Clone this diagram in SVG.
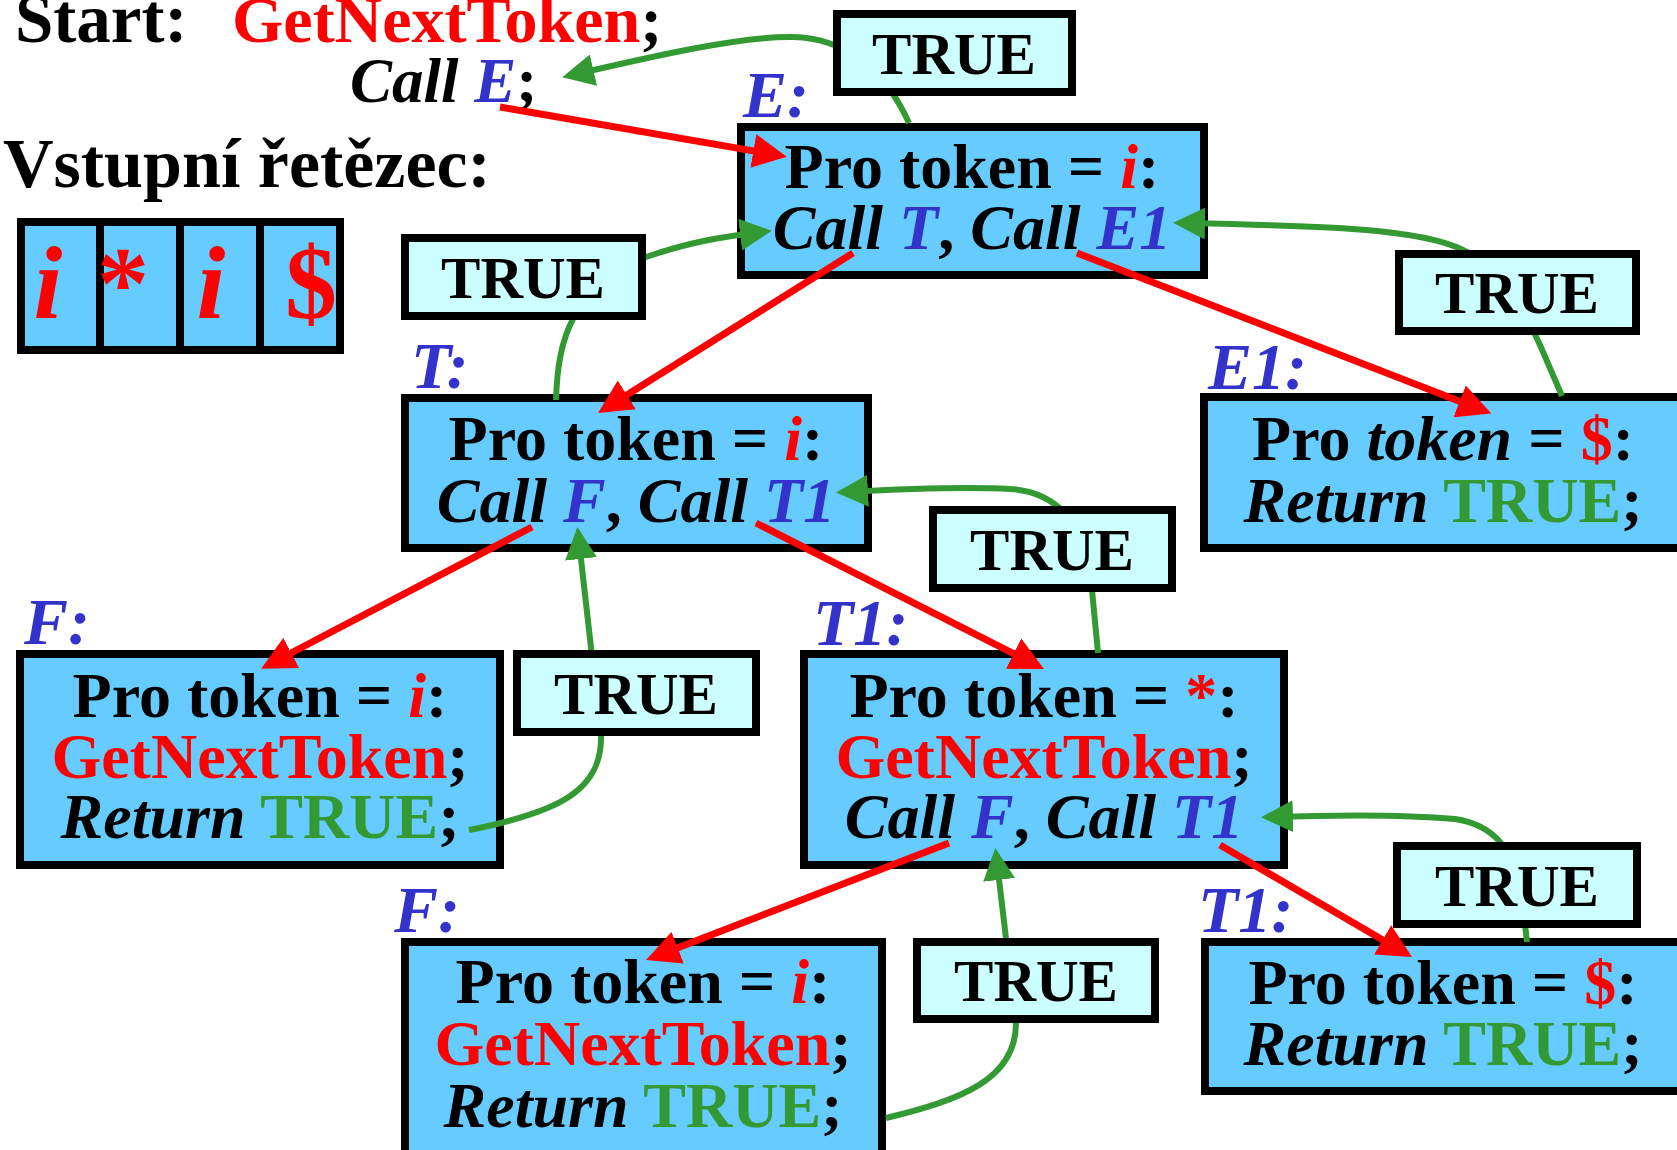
<svg xmlns="http://www.w3.org/2000/svg" width="1677" height="1150" viewBox="0 0 1677 1150">
<style>
text{font-family:"Liberation Serif","Times New Roman",serif;font-weight:bold;fill:#000}
.it{font-style:italic}
.red{fill:#ff0000}
.blue{fill:#3333cc}
.green{fill:#339933}
.box{fill:#66ccff;stroke:#000;stroke-width:8}
.tbox{fill:#ccffff;stroke:#000;stroke-width:8}
.bt{font-size:64px;text-anchor:middle}
.tt{font-size:59px;text-anchor:middle}
.lbl{font-size:66px;font-style:italic;fill:#3333cc}
.ch{font-size:104px;fill:#ff0000;text-anchor:middle}
.rl{fill:none;stroke:#ff0000;stroke-width:7}
.gl{fill:none;stroke:#339933;stroke-width:6}
</style>
<defs>
<marker id="ar" markerUnits="userSpaceOnUse" viewBox="0 0 34 34" markerWidth="34" markerHeight="34" refX="24" refY="17" orient="auto"><path d="M0,0 L34,17 L0,34 z" fill="#ff0000"/></marker>
<marker id="ag" markerUnits="userSpaceOnUse" viewBox="0 0 32 32" markerWidth="32" markerHeight="32" refX="22" refY="16" orient="auto"><path d="M0,0 L32,16 L0,32 z" fill="#339933"/></marker>
</defs>

<g id="header">
<text x="15" y="42" style="font-size:69px">Start:</text>
<text x="232" y="42" style="font-size:66px"><tspan class="red">GetNextToken</tspan>;</text>
<text x="350" y="102" style="font-size:63px"><tspan class="it">Call </tspan><tspan class="it blue">E</tspan>;</text>
<text x="3" y="187" style="font-size:70px">Vstupní řetězec:</text>
</g>

<g id="input">
<rect class="box" x="21" y="222" width="319" height="128"/>
<line x1="100" y1="222" x2="100" y2="350" stroke="#000" stroke-width="8"/>
<line x1="180" y1="222" x2="180" y2="350" stroke="#000" stroke-width="8"/>
<line x1="260" y1="222" x2="260" y2="350" stroke="#000" stroke-width="8"/>
<text class="ch it" x="48" y="318">i</text>
<text class="ch" x="123" y="318">*</text>
<text class="ch it" x="211" y="318">i</text>
<text class="ch" x="311" y="318">$</text>
</g>

<g id="node-E">
<text class="lbl" x="743" y="117">E:</text>
<rect class="box" x="741" y="127" width="463" height="148"/>
<text class="bt" x="972" y="188">Pro token = <tspan class="it red">i</tspan>:</text>
<text class="bt" x="972" y="249"><tspan class="it">Call </tspan><tspan class="it blue">T</tspan>, <tspan class="it">Call </tspan><tspan class="it blue">E1</tspan></text>
</g>

<g id="node-T">
<text class="lbl" x="411" y="388">T:</text>
<rect class="box" x="405" y="398" width="463" height="150"/>
<text class="bt" x="636" y="460">Pro token = <tspan class="it red">i</tspan>:</text>
<text class="bt" x="636" y="522"><tspan class="it">Call </tspan><tspan class="it blue">F</tspan>, <tspan class="it">Call </tspan><tspan class="it blue">T1</tspan></text>
</g>

<g id="node-E1">
<text class="lbl" x="1208" y="389">E1:</text>
<rect class="box" x="1204" y="397" width="490" height="151"/>
<text class="bt" x="1443" y="460">Pro <tspan class="it">token</tspan> = <tspan class="red">$</tspan>:</text>
<text class="bt" x="1443" y="522"><tspan class="it">Return</tspan> <tspan class="green">TRUE</tspan>;</text>
</g>

<g id="node-F">
<text class="lbl" x="24" y="644">F:</text>
<rect class="box" x="20" y="654" width="480" height="211"/>
<text class="bt" x="260" y="717">Pro token = <tspan class="it red">i</tspan>:</text>
<text class="bt" x="260" y="778"><tspan class="red">GetNextToken</tspan>;</text>
<text class="bt" x="260" y="838"><tspan class="it">Return</tspan> <tspan class="green">TRUE</tspan>;</text>
</g>

<g id="node-T1">
<text class="lbl" x="813" y="645">T1:</text>
<rect class="box" x="804" y="654" width="480" height="211"/>
<text class="bt" x="1044" y="717">Pro token = <tspan class="red">*</tspan>:</text>
<text class="bt" x="1044" y="778"><tspan class="red">GetNextToken</tspan>;</text>
<text class="bt" x="1044" y="838"><tspan class="it">Call </tspan><tspan class="it blue">F</tspan>, <tspan class="it">Call </tspan><tspan class="it blue">T1</tspan></text>
</g>

<g id="node-F2">
<text class="lbl" x="394" y="932">F:</text>
<rect class="box" x="405" y="942" width="477" height="230"/>
<text class="bt" x="643" y="1003">Pro token = <tspan class="it red">i</tspan>:</text>
<text class="bt" x="643" y="1065"><tspan class="red">GetNextToken</tspan>;</text>
<text class="bt" x="643" y="1127"><tspan class="it">Return</tspan> <tspan class="green">TRUE</tspan>;</text>
</g>

<g id="node-T1b">
<text class="lbl" x="1198" y="932">T1:</text>
<rect class="box" x="1205" y="942" width="490" height="149"/>
<text class="bt" x="1443" y="1004">Pro token = <tspan class="red">$</tspan>:</text>
<text class="bt" x="1443" y="1065"><tspan class="it">Return</tspan> <tspan class="green">TRUE</tspan>;</text>
</g>

<g id="connectors">
<path class="gl" d="M909 123 C885 70 845 38 793 37 C740 36 650 57 572 75" marker-end="url(#ag)"/>
<path class="gl" d="M556 400 C558 340 570 290 646 257 C690 242 720 237 762 232" marker-end="url(#ag)"/>
<path class="gl" d="M1562 396 L1540 345 C1520 300 1490 262 1463 250 C1420 228 1320 226 1183 223" marker-end="url(#ag)"/>
<path class="gl" d="M1098 653 L1092 590 C1088 540 1070 493 1010 489 C960 486 900 489 846 492" marker-end="url(#ag)"/>
<path class="gl" d="M469 830 C560 812 602 790 601 736 L578.5 537" marker-end="url(#ag)"/>
<path class="gl" d="M886 1118 C960 1100 1016 1080 1016 1023 L996.5 858" marker-end="url(#ag)"/>
<path class="gl" d="M1527 942 L1520 880 C1510 850 1495 825 1455 819 C1400 814 1330 815 1271 817" marker-end="url(#ag)"/>
<line class="rl" x1="500" y1="107" x2="777" y2="155" marker-end="url(#ar)"/>
<line class="rl" x1="853" y1="253" x2="606.5" y2="407.7" marker-end="url(#ar)"/>
<line class="rl" x1="1077" y1="253" x2="1482" y2="410" marker-end="url(#ar)"/>
<line class="rl" x1="532" y1="527" x2="270" y2="664" marker-end="url(#ar)"/>
<line class="rl" x1="756" y1="523" x2="1035" y2="664.5" marker-end="url(#ar)"/>
<line class="rl" x1="949" y1="843" x2="655.3" y2="956.4" marker-end="url(#ar)"/>
<line class="rl" x1="1220" y1="845" x2="1403.4" y2="952" marker-end="url(#ar)"/>
</g>

<g id="true-E"><rect class="tbox" x="837" y="14" width="235" height="78"/><text class="tt" x="954" y="74">TRUE</text></g>
<g id="true-T"><rect class="tbox" x="405" y="238" width="237" height="78"/><text class="tt" x="523" y="298">TRUE</text></g>
<g id="true-E1"><rect class="tbox" x="1399" y="254" width="237" height="77"/><text class="tt" x="1517" y="313">TRUE</text></g>
<g id="true-T1"><rect class="tbox" x="933" y="510" width="239" height="78"/><text class="tt" x="1052" y="570">TRUE</text></g>
<g id="true-F"><rect class="tbox" x="517" y="654" width="239" height="78"/><text class="tt" x="636" y="714">TRUE</text></g>
<g id="true-F2"><rect class="tbox" x="917" y="942" width="238" height="77"/><text class="tt" x="1036" y="1001">TRUE</text></g>
<g id="true-T1b"><rect class="tbox" x="1397" y="846" width="240" height="78"/><text class="tt" x="1517" y="906">TRUE</text></g>
</svg>
